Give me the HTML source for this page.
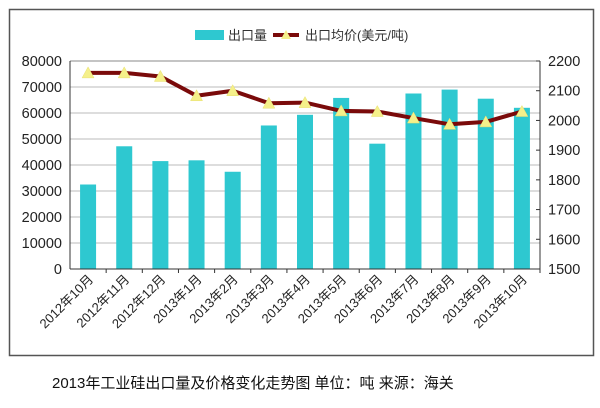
<!DOCTYPE html>
<html><head><meta charset="utf-8"><style>
body{margin:0;background:#fff;width:600px;height:403px;overflow:hidden}
</style></head><body>
<svg width="600" height="403" xmlns="http://www.w3.org/2000/svg" font-family="Liberation Sans, Noto Sans CJK SC, sans-serif">
<rect x="9.5" y="9.5" width="584" height="346" fill="#fff" stroke="#555" stroke-width="1.5"/>
<g stroke="#bbb" stroke-width="1">
<line x1="70" x2="540" y1="87" y2="87"/><line x1="70" x2="540" y1="113" y2="113"/><line x1="70" x2="540" y1="139" y2="139"/><line x1="70" x2="540" y1="165" y2="165"/><line x1="70" x2="540" y1="191" y2="191"/><line x1="70" x2="540" y1="217" y2="217"/><line x1="70" x2="540" y1="243" y2="243"/>
</g>
<line x1="70" x2="540" y1="61" y2="61" stroke="#888"/>
<g fill="#2ec8d0" id="bars"></g>
<g stroke="#333" stroke-width="1" fill="none">
<line x1="70" y1="61" x2="70" y2="269"/><line x1="540" y1="61" x2="540" y2="269"/><line x1="70" y1="269" x2="540" y2="269"/>
</g>
<g id="ticks" stroke="#333"></g>
<g font-size="14.5" fill="#222" text-anchor="end" id="ly"></g>
<g font-size="14.5" fill="#222" text-anchor="start" id="ry"></g>
<polyline id="line" fill="none" stroke="#7a0a0a" stroke-width="4" stroke-linejoin="round"/>
<g id="mk" fill="#f5f08a" stroke="#e8e070" stroke-width="0.5"></g>
<g id="xl" font-size="13" fill="#222" text-anchor="end"></g>
<rect x="195" y="30" width="29" height="10" fill="#2ec8d0"/>
<text x="228" y="40" font-size="13" fill="#333">出口量</text>
<line x1="273" y1="35" x2="299" y2="35" stroke="#7a0a0a" stroke-width="4"/>
<polygon points="286,30 281,39 291,39" fill="#f5f08a"/>
<text x="305" y="40" font-size="13" fill="#333">出口均价(美元/吨)</text>
<text x="52" y="388" font-size="15" fill="#111">2013年工业硅出口量及价格变化走势图 单位：吨 来源：海关</text>
</svg>
<script>
var ns="http://www.w3.org/2000/svg";
function el(p,t,a,txt){var e=document.createElementNS(ns,t);for(var k in a)e.setAttribute(k,a[k]);if(txt!=null)e.textContent=txt;document.getElementById(p).appendChild(e);}
var v=[32500,47200,41500,41800,37400,55200,59300,65800,48200,67500,69000,65500,62000];
var pr=[2160,2160,2148,2083,2100,2058,2060,2032,2030,2008,1987,1995,2030];
var lab=["2012年10月","2012年11月","2012年12月","2013年1月","2013年2月","2013年3月","2013年4月","2013年5月","2013年6月","2013年7月","2013年8月","2013年9月","2013年10月"];
var w=470/13,pts=[];
for(var i=0;i<13;i++){var cx=70+w*(i+0.5);var h=v[i]/80000*208;
el("bars","rect",{x:cx-8,y:269-h,width:16,height:h});
var y=269-(pr[i]-1500)/700*208;pts.push(cx+","+y);
el("mk","polygon",{points:cx+","+(y-6)+" "+(cx-6)+","+(y+5)+" "+(cx+6)+","+(y+5)});
el("ticks","line",{x1:70+w*(i+1),x2:70+w*(i+1),y1:269,y2:273});
el("xl","text",{transform:"translate("+(cx+6)+",280) rotate(-45)"},lab[i]);}
document.getElementById("line").setAttribute("points",pts.join(" "));
for(var j=0;j<=8;j++){el("ly","text",{x:62,y:269-j*26+5},String(j*10000));}
for(var j=0;j<=7;j++){var y=269-j*208/7;el("ry","text",{x:548,y:y+5},String(1500+j*100));el("ticks","line",{x1:536,x2:540,y1:y,y2:y});}
</script>
</body></html>
